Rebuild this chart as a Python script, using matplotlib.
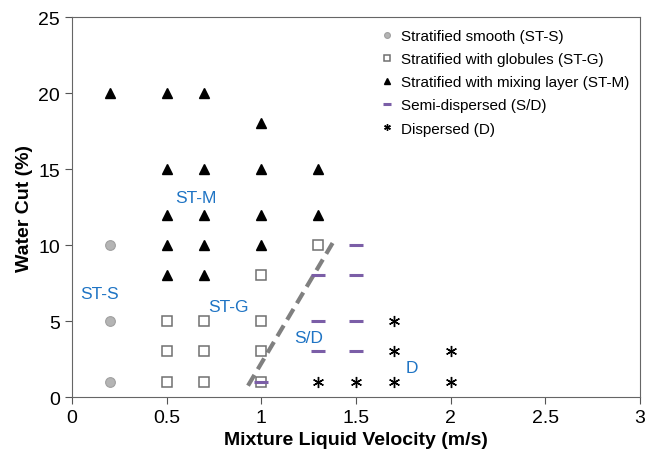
import matplotlib
matplotlib.use("Agg")
import matplotlib.pyplot as plt

plt.rcParams['font.family'] = ['Liberation Sans', 'DejaVu Sans']

# flow pattern map data (velocity m/s, water cut %)
sts_x = [0.2, 0.2, 0.2]
sts_y = [1, 5, 10]

stg_x = [0.5, 0.5, 0.5, 0.7, 0.7, 0.7, 1.0, 1.0, 1.0, 1.0, 1.3]
stg_y = [1, 3, 5, 1, 3, 5, 1, 3, 5, 8, 10]

stm_x = [0.2, 0.5, 0.7, 1.0, 0.5, 0.7, 1.0, 1.3, 0.5, 0.7, 1.0, 1.3, 0.5, 0.7, 1.0, 0.5, 0.7]
stm_y = [20, 20, 20, 18, 15, 15, 15, 15, 12, 12, 12, 12, 10, 10, 10, 8, 8]

sd_x = [1.0, 1.3, 1.5, 1.3, 1.5, 1.3, 1.5, 1.5]
sd_y = [1, 3, 3, 5, 5, 8, 8, 10]

d_x = [1.3, 1.5, 1.7, 2.0, 1.7, 2.0, 1.7]
d_y = [1, 1, 1, 1, 3, 3, 5]

boundary_x = [0.93, 1.38]
boundary_y = [0.75, 10.2]

region_labels = ['ST-M', 'ST-S', 'ST-G', 'S/D', 'D']
region_x = [0.545, 0.045, 0.72, 1.175, 1.765]
region_y = [12.85, 6.55, 5.65, 3.6, 1.65]

fig = plt.figure(figsize=(6.45, 4.56), dpi=100)
ax = fig.add_axes([0.1116, 0.127, 0.8804, 0.8335])

ax.plot(boundary_x, boundary_y, '--', color='#808080', lw=3, dashes=(3, 1.6), zorder=1)

ax.plot(sts_x, sts_y, 'o', ms=7, color='#b4b4b4', mec='#a0a0a0', mew=0.8,
        label='Stratified smooth (ST-S)')
ax.plot(stg_x, stg_y, 's', ms=7, mfc='white', mec='#707070', mew=1.1,
        label='Stratified with globules (ST-G)')
ax.plot(stm_x, stm_y, '^', ms=7, color='black',
        label='Stratified with mixing layer (ST-M)')
ax.plot(sd_x, sd_y, '_', ms=10, mew=2.2, color='#7b5ea7',
        label='Semi-dispersed (S/D)')
ax.plot(d_x, d_y, marker=(6, 2, 0), ls='none', ms=8, mew=1.0, color='black',
        label='Dispersed (D)')

for lab, tx, ty in zip(region_labels, region_x, region_y):
    ax.text(tx, ty, lab, color='#1f74c4', fontsize=12.5)

ax.set_xlim(0, 3)
ax.set_ylim(0, 25)
ax.set_xticks([0, 0.5, 1, 1.5, 2, 2.5, 3])
ax.set_xticklabels(['0', '0.5', '1', '1.5', '2', '2.5', '3'])
ax.set_yticks([0, 5, 10, 15, 20, 25])
ax.tick_params(labelsize=14, length=5, color='#555555', direction='out')
for sp in ax.spines.values():
    sp.set_color('#666666')

ax.set_xlabel('Mixture Liquid Velocity (m/s)', fontsize=14, fontweight='bold')
ax.set_ylabel('Water Cut (%)', fontsize=14, fontweight='bold')

leg = ax.legend(loc='upper right', frameon=False, fontsize=11, markerscale=0.6,
                handlelength=0.8, handletextpad=0.5, labelspacing=0.6,
                bbox_to_anchor=(1.005, 1.005))

fig.savefig('out.png', dpi=100)
